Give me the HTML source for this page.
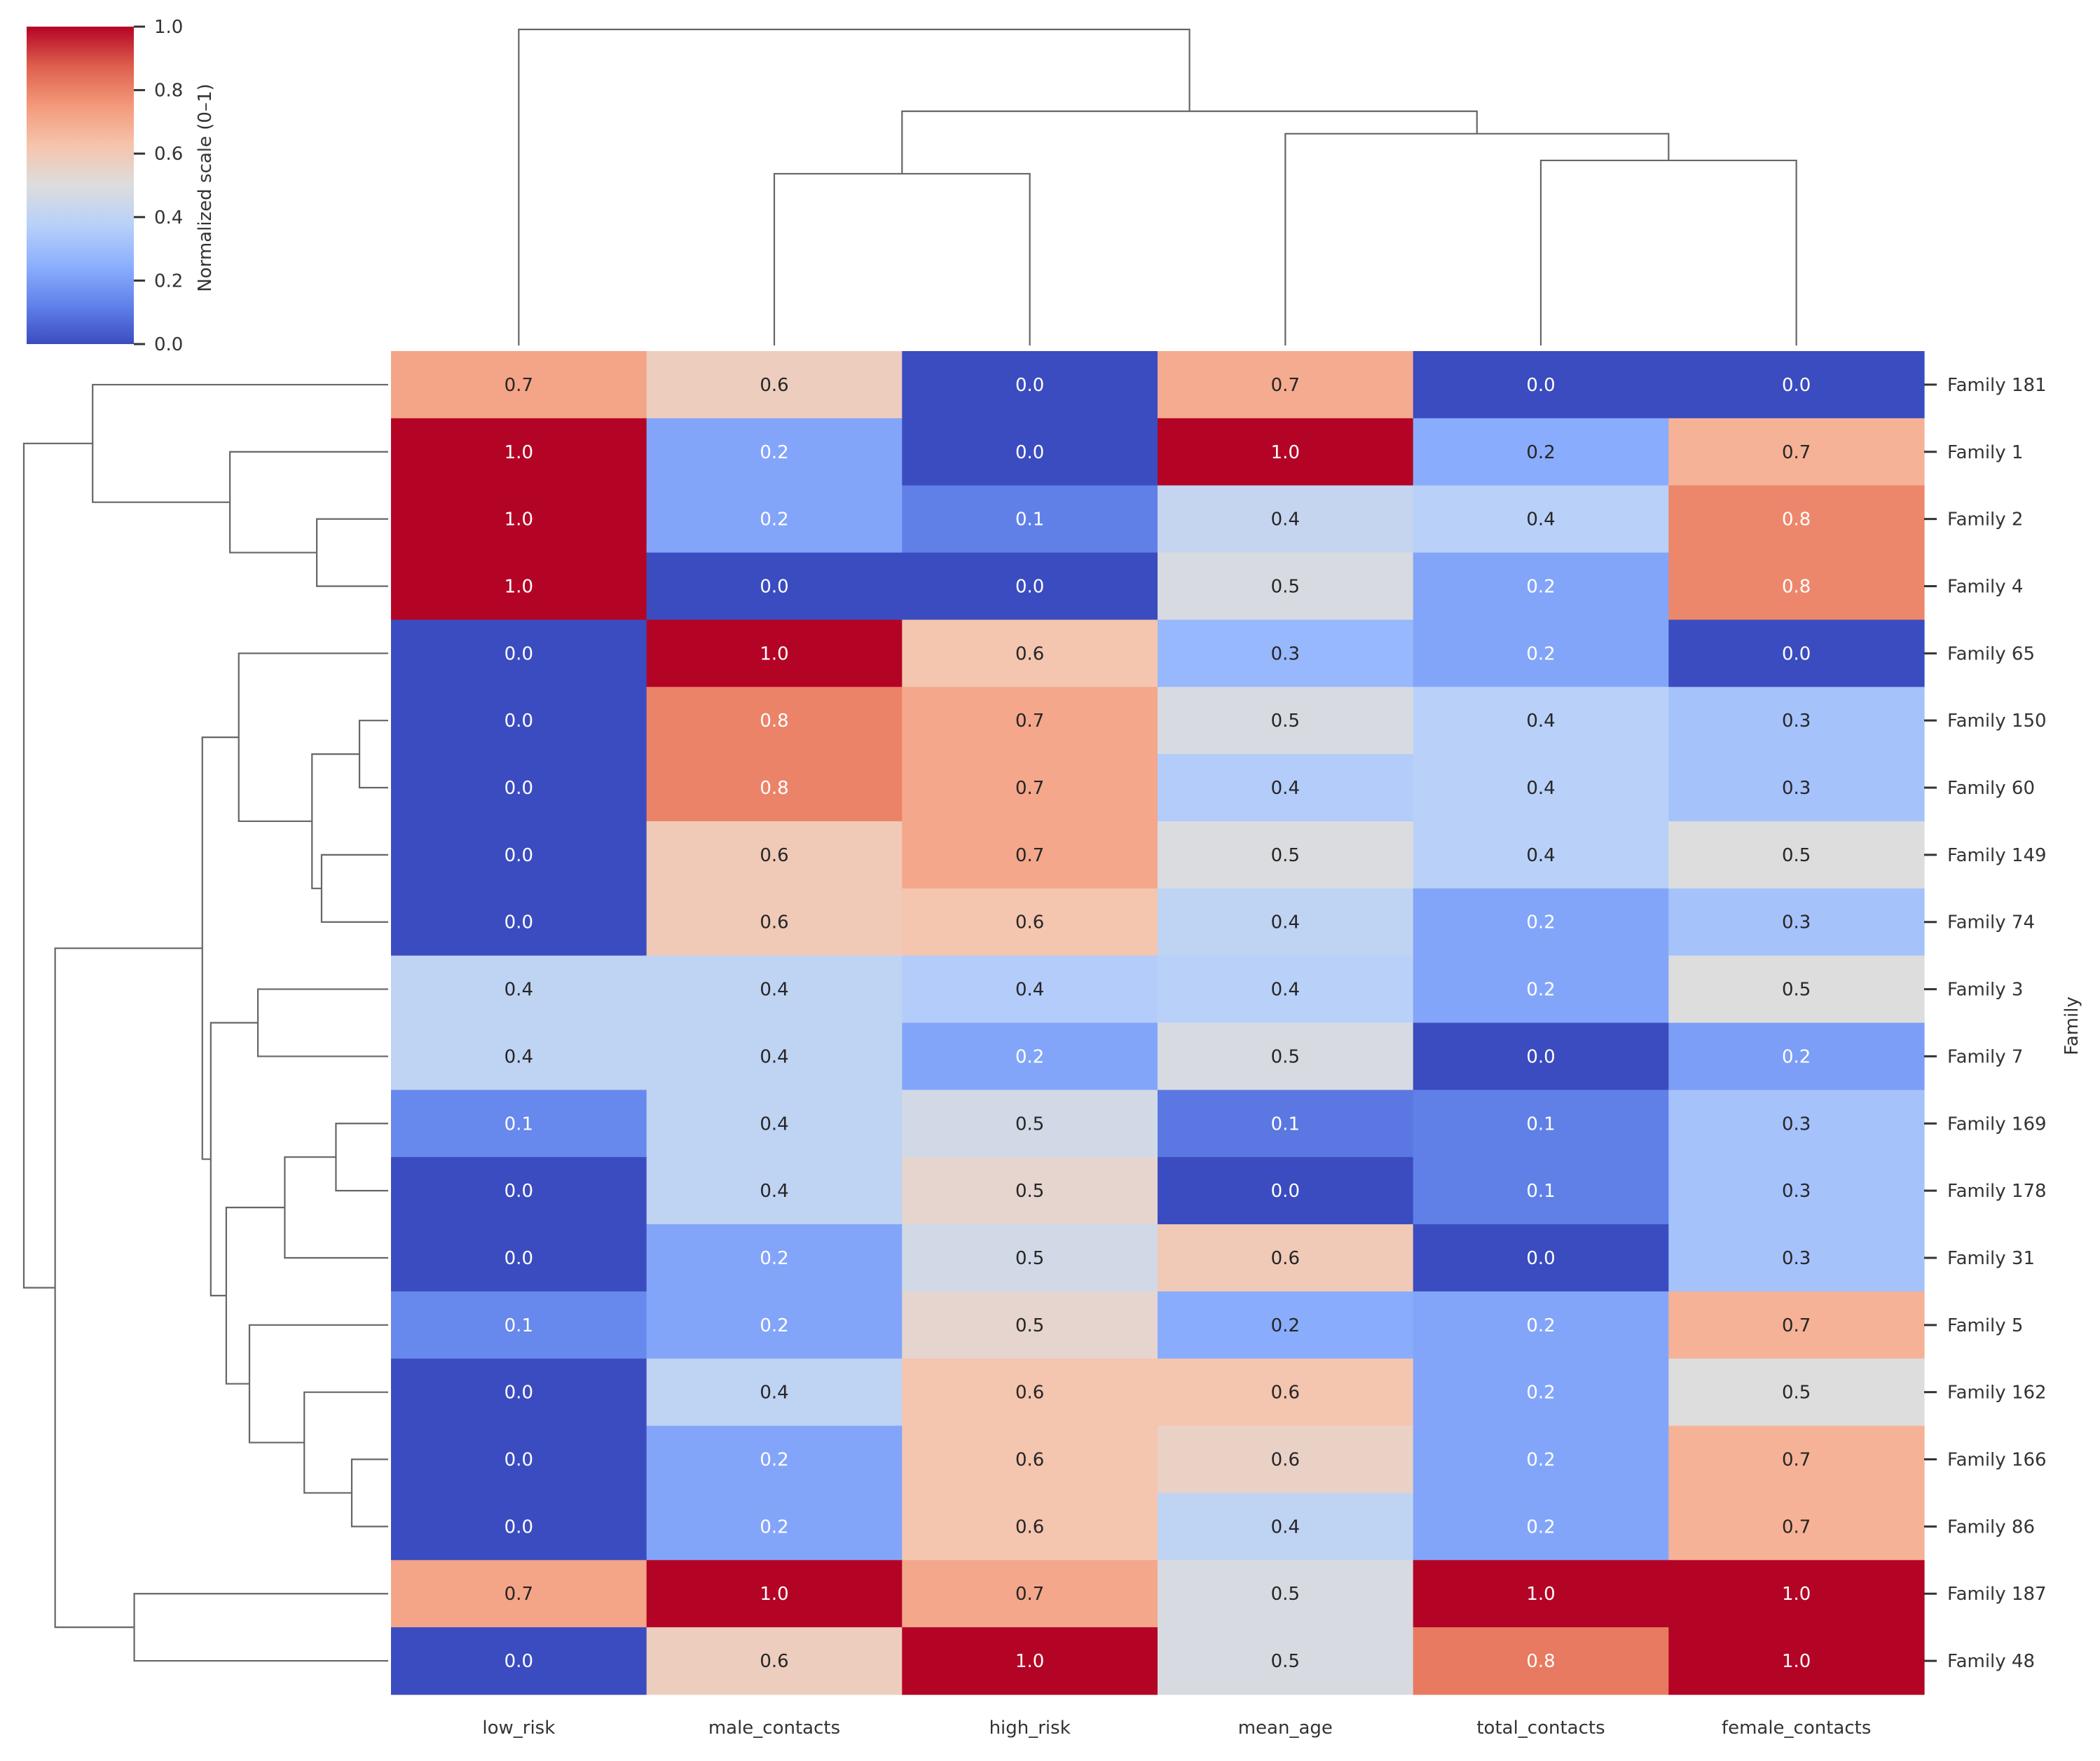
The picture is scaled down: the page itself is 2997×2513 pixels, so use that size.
<!DOCTYPE html>
<html><head><meta charset="utf-8"><style>
html,body{margin:0;padding:0;background:#fff;}
svg{display:block;font-family:"DejaVu Sans","Liberation Sans",sans-serif;}
</style></head><body>
<svg id="chart" width="2997" height="2513" viewBox="0 0 2997 2513" xmlns="http://www.w3.org/2000/svg">
<defs>
<linearGradient id="cmap" x1="0" y1="1" x2="0" y2="0">
<stop offset="0" stop-color="rgb(59,76,192)"/><stop offset="0.125" stop-color="rgb(98,130,234)"/>
<stop offset="0.25" stop-color="rgb(141,176,254)"/><stop offset="0.375" stop-color="rgb(184,208,249)"/>
<stop offset="0.5" stop-color="rgb(221,221,221)"/><stop offset="0.625" stop-color="rgb(245,196,173)"/>
<stop offset="0.75" stop-color="rgb(244,154,123)"/><stop offset="0.875" stop-color="rgb(222,96,77)"/>
<stop offset="1" stop-color="rgb(180,4,38)"/>
</linearGradient>
</defs>
<g id="colorbar">
<rect x="38" y="38" width="153" height="453" fill="url(#cmap)"/>
</g>
<text transform="translate(301,268) rotate(-90)" text-anchor="middle" font-size="26" fill="#333">Normalized scale (0–1)</text>
<g id="heat"></g>
<g id="dendro"></g>
<text transform="translate(2965,1464) rotate(-90)" text-anchor="middle" font-size="26" fill="#333">Family</text>
</svg>
<script>
const columns = ["low_risk","male_contacts","high_risk","mean_age","total_contacts","female_contacts"];
const rows = ["Family 181","Family 1","Family 2","Family 4","Family 65","Family 150","Family 60","Family 149","Family 74","Family 3","Family 7","Family 169","Family 178","Family 31","Family 5","Family 162","Family 166","Family 86","Family 187","Family 48"];
const values = [
[.72,.58,0,.70,0,0],
[1,.22,0,1,.24,.68],
[1,.22,.12,.42,.38,.79],
[1,0,0,.48,.22,.79],
[0,1,.62,.28,.22,0],
[0,.80,.71,.48,.38,.32],
[0,.80,.71,.36,.38,.32],
[0,.60,.71,.49,.38,.50],
[0,.60,.62,.40,.22,.32],
[.40,.40,.36,.38,.22,.50],
[.40,.40,.22,.48,0,.20],
[.14,.40,.46,.10,.12,.32],
[0,.40,.54,0,.12,.32],
[0,.22,.46,.60,0,.32],
[.14,.22,.54,.24,.22,.68],
[0,.40,.62,.62,.22,.50],
[0,.22,.62,.56,.22,.68],
[0,.22,.62,.40,.22,.68],
[.72,1,.71,.48,1,1],
[0,.58,1,.48,.82,1]
];
const cbTicks = [0,0.2,0.4,0.6,0.8,1.0];
// column linkage: [left node, right node, height]; nodes <6 are leaves, >=6 are merges
const colLinks = [[1,2,0.489],[4,5,0.527],[3,7,0.603],[6,8,0.667],[0,9,0.9]];
// row linkage: [left, right, distance]
const rowLinks = [[2,3,0.194],[1,20,0.43],[0,21,0.803],[5,6,0.078],[7,8,0.181],[23,24,0.207],[4,25,0.406],
[9,10,0.354],[11,12,0.142],[13,28,0.281],[16,17,0.099],[15,30,0.228],[14,31,0.377],[29,32,0.44],
[27,33,0.482],[26,34,0.505],[18,19,0.69],[35,36,0.905],[22,37,0.99]];

const NS="http://www.w3.org/2000/svg";
const X0=558,X1=2746,Y0=501,Y1=2418;
const cw=(X1-X0)/columns.length, rh=(Y1-Y0)/rows.length;
const colX=i=>X0+cw*(i+0.5), rowY=i=>Y0+rh*(i+0.5);
const cbY=v=>491-v*453;
const topY=h=>493-h*(493-42)/0.9;
const leftX=d=>554-d*(554-34)/0.99;
const stops=[[59,76,192],[98,130,234],[141,176,254],[184,208,249],[221,221,221],[245,196,173],[244,154,123],[222,96,77],[180,4,38]];
function cmap(v){v=Math.max(0,Math.min(1,v));const t=v*8,i=Math.min(7,Math.floor(t)),f=t-i;
 return stops[i].map((c,k)=>Math.round(c+(stops[i+1][k]-c)*f));}
function lum(c){const l=c.map(x=>{x/=255;return x<=0.03928?x/12.92:Math.pow((x+0.055)/1.055,2.4)});return .2126*l[0]+.7152*l[1]+.0722*l[2];}
function mk(tag,attrs,parent){const e=document.createElementNS(NS,tag);for(const k in attrs)e.setAttribute(k,attrs[k]);parent.appendChild(e);return e;}
const svg=document.getElementById('chart'),heat=document.getElementById('heat'),dg=document.getElementById('dendro'),cb=document.getElementById('colorbar');

cbTicks.forEach(v=>{
 const t=mk('line',{x1:191,x2:207,y1:cbY(v),y2:cbY(v),stroke:'#333','stroke-width':3},cb);
 
 
 const l=mk('text',{x:220,y:cbY(v)+9,'font-size':26,fill:'#333'},cb);
 
 
 l.textContent=v.toFixed(1);
});

values.forEach((row,r)=>row.forEach((v,c)=>{
 const col=cmap(v);
 const cell=mk('rect',{x:X0+cw*c,y:Y0+rh*r,width:cw+0.6,height:rh+0.6,fill:`rgb(${col})`},heat);
 
 
 const t=mk('text',{x:colX(c),y:rowY(r)+9,'text-anchor':'middle','font-size':26,fill:lum(col)>0.408?'#262626':'#ffffff'},heat);
 
 
 t.textContent=v.toFixed(1);
}));

rows.forEach((n,r)=>{
 const tk=mk('line',{x1:X1,x2:X1+18,y1:rowY(r),y2:rowY(r),stroke:'#333','stroke-width':3},svg);
 
 
 const t=mk('text',{x:2779,y:rowY(r)+9,'font-size':26,fill:'#333'},svg);
 
 
 t.textContent=n;
});
columns.forEach((n,c)=>{
 const t=mk('text',{x:colX(c),y:2474,'text-anchor':'middle','font-size':26,fill:'#333'},svg);
 
 
 t.textContent=n;
});

(function(){const pos=columns.map((_,i)=>colX(i)),h=columns.map(()=>0);
 colLinks.forEach(([a,b,ht])=>{const y=topY(ht);
  const p=mk('path',{d:`M${pos[a]},${topY(h[a])}V${y}H${pos[b]}V${topY(h[b])}`,fill:'none',stroke:'#666','stroke-width':2.2},dg);
  
  
  pos.push((pos[a]+pos[b])/2);h.push(ht);});
})();
(function(){const pos=rows.map((_,i)=>rowY(i)),h=rows.map(()=>0);
 rowLinks.forEach(([a,b,d])=>{const x=leftX(d);
  const p=mk('path',{d:`M${leftX(h[a])},${pos[a]}H${x}V${pos[b]}H${leftX(h[b])}`,fill:'none',stroke:'#666','stroke-width':2.2},dg);
  
  
  pos.push((pos[a]+pos[b])/2);h.push(d);});
})();
</script>
</body></html>
